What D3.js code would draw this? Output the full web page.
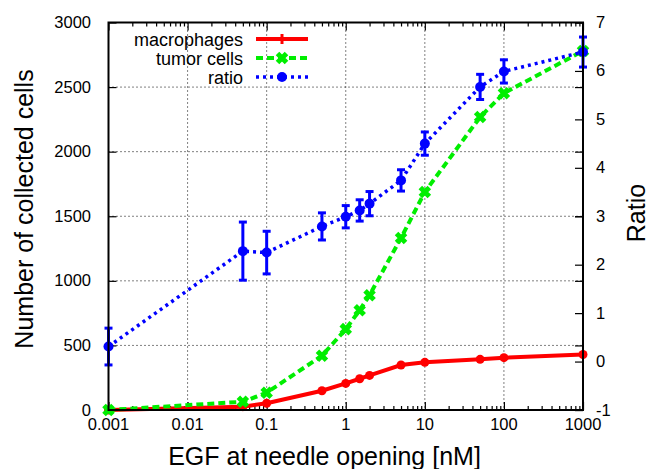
<!DOCTYPE html>
<html><head><meta charset="utf-8">
<script src="https://cdn.jsdelivr.net/npm/d3@7"></script>
<style>body{margin:0;background:#fff}svg{display:block;font-family:"Liberation Sans",Arial,sans-serif}</style>
</head><body>
<svg id="c" width="649" height="469"></svg>
<script>
const egf = [0.001, 0.05, 0.1, 0.5, 1, 1.5, 2, 5, 10, 50, 100, 1000];
const macrophages = [0, 26, 52, 149, 206, 242, 268, 348, 369, 392, 405, 430];
const tumorCells = [0, 64, 134, 420, 626, 773, 889, 1332, 1688, 2268, 2453, 2780];
const ratio = [0.31, 2.28, 2.25, 2.79, 2.99, 3.12, 3.26, 3.74, 4.50, 5.67, 5.99, 6.39];
const ratioErr = [0.38, 0.60, 0.44, 0.28, 0.23, 0.22, 0.25, 0.22, 0.24, 0.26, 0.24, 0.31];
const xTicks = [0.001, 0.01, 0.1, 1, 10, 100, 1000];
const yLeftTicks = [0, 500, 1000, 1500, 2000, 2500, 3000];
const yRightTicks = [-1, 0, 1, 2, 3, 4, 5, 6, 7];
const seriesNames = ["macrophages", "tumor cells", "ratio"];

const svg = d3.select("#c");
const L = 108.5, R = 583, T = 22.5, B = 410;
const x = d3.scaleLog().domain([0.001, 1000]).range([L, R]);
const yL = d3.scaleLinear().domain([0, 3000]).range([B, T]);
const yR = d3.scaleLinear().domain([-1, 7]).range([B, T]);

// grid
const g = svg.append("g");
xTicks.slice(1, -1).forEach(v => g.append("line").attr("x1", x(v)).attr("x2", x(v)).attr("y1", T).attr("y2", B)
  .attr("stroke", "#000").attr("stroke-width", 1).attr("stroke-dasharray", "1,3"));
yLeftTicks.slice(1, -1).forEach(v => g.append("line").attr("x1", L).attr("x2", R).attr("y1", yL(v)).attr("y2", yL(v))
  .attr("stroke", "#000").attr("stroke-width", 1).attr("stroke-dasharray", "1,3"));

// axes (inward ticks)
const minor = [];
for (let e = -3; e < 3; e++) for (let m = 2; m <= 9; m++) minor.push(m * Math.pow(10, e));
const ax = svg.append("g");
function tickLines(axisGen, tr) {
  const a = ax.append("g").attr("transform", tr).call(axisGen);
  a.select(".domain").remove();
  a.selectAll("text").remove();
  a.selectAll("line").attr("stroke", "#000").attr("stroke-width", 1.2);
  return a;
}
tickLines(d3.axisTop(x).tickValues(xTicks).tickSize(8), `translate(0,${B})`);
tickLines(d3.axisTop(x).tickValues(minor).tickSize(4), `translate(0,${B})`);
tickLines(d3.axisBottom(x).tickValues(xTicks).tickSize(8), `translate(0,${T})`);
tickLines(d3.axisBottom(x).tickValues(minor).tickSize(4), `translate(0,${T})`);
tickLines(d3.axisRight(yL).tickValues(yLeftTicks).tickSize(8), `translate(${L},0)`);
tickLines(d3.axisLeft(yL).tickValues(yLeftTicks).tickSize(8), `translate(${R},0)`);
tickLines(d3.axisLeft(yR).tickValues(yRightTicks).tickSize(8), `translate(${R},0)`);

// labels
ax.selectAll(".xl").data(xTicks).enter().append("text").attr("x", d => x(d)).attr("y", 430)
  .attr("text-anchor", "middle").attr("font-size", 16.5).text(d => String(d));
ax.selectAll(".yl").data(yLeftTicks).enter().append("text").attr("x", 91).attr("y", d => yL(d) + 5.5)
  .attr("text-anchor", "end").attr("font-size", 16.5).text(d => d);
ax.selectAll(".yr").data(yRightTicks).enter().append("text").attr("x", 596).attr("y", d => yR(d) + 5.5)
  .attr("text-anchor", "start").attr("font-size", 16.5).text(d => d);
svg.append("text").attr("x", 324.5).attr("y", 465).attr("text-anchor", "middle").attr("font-size", 25)
  .text("EGF at needle opening [nM]");
svg.append("text").attr("transform", `translate(33,209) rotate(-90)`).attr("text-anchor", "middle")
  .attr("font-size", 25).text("Number of collected cells");
svg.append("text").attr("transform", `translate(645,213) rotate(-90)`).attr("text-anchor", "middle")
  .attr("font-size", 25).text("Ratio");

const plot = svg.append("g");
const red = "#ff0000", green = "#00ee00", blue = "#0000ff";
const lineL = d3.line().x((d, i) => x(egf[i])).y(d => yL(d));
const lineR = d3.line().x((d, i) => x(egf[i])).y(d => yR(d));

// macrophages
plot.append("path").datum(macrophages).attr("d", lineL).attr("fill", "none").attr("stroke", red).attr("stroke-width", 4);
plot.selectAll(".rm").data(macrophages).enter().append("circle").attr("cx", (d, i) => x(egf[i])).attr("cy", d => yL(d))
  .attr("r", 4.5).attr("fill", red);

// tumor cells
plot.append("path").datum(tumorCells).attr("d", lineL).attr("fill", "none").attr("stroke", green).attr("stroke-width", 4)
  .attr("stroke-dasharray", "7,4");
const xMark = (cx, cy, s) => `M${cx - s},${cy - s}L${cx + s},${cy + s}M${cx - s},${cy + s}L${cx + s},${cy - s}`;
plot.selectAll(".gm").data(tumorCells).enter().append("path").attr("d", (d, i) => xMark(x(egf[i]), yL(d), 4.5))
  .attr("stroke", green).attr("stroke-width", 5);

// ratio
plot.append("path").datum(ratio).attr("d", lineR).attr("fill", "none").attr("stroke", blue).attr("stroke-width", 3.5)
  .attr("stroke-dasharray", "3,4");
ratio.forEach((d, i) => {
  const cx = x(egf[i]), y1 = yR(d + ratioErr[i]), y2 = yR(d - ratioErr[i]);
  plot.append("line").attr("x1", cx).attr("x2", cx).attr("y1", y1).attr("y2", y2).attr("stroke", blue).attr("stroke-width", 3);
  [y1, y2].forEach(yy => plot.append("line").attr("x1", cx - 4).attr("x2", cx + 4).attr("y1", yy).attr("y2", yy)
    .attr("stroke", blue).attr("stroke-width", 3));
  plot.append("circle").attr("cx", cx).attr("cy", yR(d)).attr("r", 5).attr("fill", blue);
});

// frame
svg.append("rect").attr("x", L).attr("y", T).attr("width", R - L).attr("height", B - T)
  .attr("fill", "none").attr("stroke", "#000").attr("stroke-width", 2);

// legend
const leg = svg.append("g");
const rows = [39, 58, 77];
seriesNames.forEach((n, i) => {
  leg.append("text").attr("x", 243).attr("y", rows[i] + 6.5).attr("text-anchor", "end").attr("font-size", 18).text(n);
});
leg.append("line").attr("x1", 256).attr("x2", 308).attr("y1", rows[0]).attr("y2", rows[0]).attr("stroke", red).attr("stroke-width", 4);
leg.append("line").attr("x1", 282).attr("x2", 282).attr("y1", rows[0] - 5).attr("y2", rows[0] + 5).attr("stroke", red).attr("stroke-width", 3);
leg.append("line").attr("x1", 256).attr("x2", 308).attr("y1", rows[1]).attr("y2", rows[1]).attr("stroke", green).attr("stroke-width", 4).attr("stroke-dasharray", "7,4");
leg.append("path").attr("d", xMark(282, rows[1], 4.5)).attr("stroke", green).attr("stroke-width", 5);
leg.append("line").attr("x1", 256).attr("x2", 308).attr("y1", rows[2]).attr("y2", rows[2]).attr("stroke", blue).attr("stroke-width", 3.5).attr("stroke-dasharray", "3,4");
leg.append("circle").attr("cx", 282).attr("cy", rows[2]).attr("r", 5).attr("fill", blue);
</script>
</body></html>
